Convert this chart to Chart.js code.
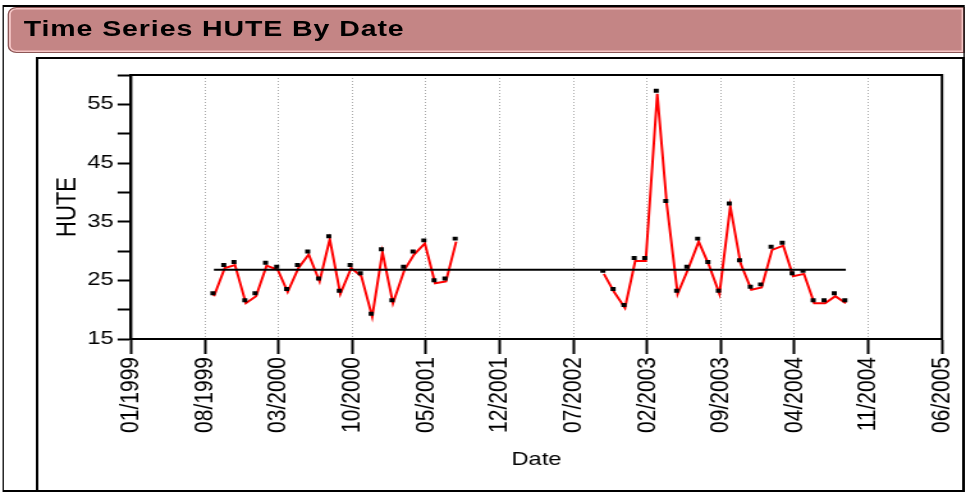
<!DOCTYPE html>
<html>
<head>
<meta charset="utf-8">
<script src="https://cdn.jsdelivr.net/npm/chart.js@4.4.0/dist/chart.umd.min.js"></script>
<style>
  body { margin: 0; background: #fff; }
  /* the source screenshot is stretched sideways, so the whole page is too */
  #page { position: absolute; left: 0; top: 0; width: 755px; height: 493px; overflow: hidden;
          transform: scaleX(1.2795); transform-origin: 0 0; }
  #head { position: absolute; left: 5.5px; top: 7px; width: 748.5px; height: 46px; box-sizing: border-box;
          border: 1px solid #8c5656; border-radius: 7px 0 0 7px; background: #c48585;
          box-shadow: inset 0 0 0 1.5px #f3c4c4; }
  #head span { position: absolute; left: 12px; top: 10px; font: bold 22.3px "Liberation Sans", Arial, sans-serif;
               line-height: 22.3px; letter-spacing: 0.7px; color: #000; white-space: nowrap; }
  #outer { position: absolute; left: 1.5px; top: 5px; width: 752.5px; height: 487px; box-sizing: border-box;
           border-style: solid; border-color: #000; border-width: 2px 1.5px; }
  #inner { position: absolute; left: 28.1px; top: 57px; width: 726px; height: 435px; box-sizing: border-box;
           border: 2px solid #000; }
</style>
</head>
<body>
<div id="page">
  <div id="head"><span>Time Series HUTE By Date</span></div>
  <div id="outer"></div>
  <div id="inner"></div>
  <canvas id="hute" width="755" height="493" style="position:absolute;left:0;top:0"></canvas>
</div>
<script>
// monthly HUTE readings, first run
var dates9901 = ["1999-08-28", "1999-09-28", "1999-10-28", "1999-11-28", "1999-12-28",
    "2000-01-28", "2000-02-28", "2000-03-28", "2000-04-28", "2000-05-28", "2000-06-28",
    "2000-07-28", "2000-08-28", "2000-09-28", "2000-10-28", "2000-11-28", "2000-12-28",
    "2001-01-28", "2001-02-28", "2001-03-28", "2001-04-28", "2001-05-28", "2001-06-28", "2001-07-28"];
var hute9901 = [22.3, 27.1, 27.6, 21.1, 22.3, 27.5, 26.8, 23.0, 27.1, 29.4, 24.8, 32.0,
    22.7, 27.1, 25.7, 18.8, 29.8, 21.1, 26.8, 29.4, 31.3, 24.5, 24.8, 31.6];

// second run, after the gap
var dates0204 = ["2002-09-28", "2002-10-28", "2002-11-28", "2002-12-28",
    "2003-01-28", "2003-02-28", "2003-03-28", "2003-04-28", "2003-05-28", "2003-06-28",
    "2003-07-28", "2003-08-28", "2003-09-28", "2003-10-28", "2003-11-28", "2003-12-28",
    "2004-01-28", "2004-02-28", "2004-03-28", "2004-04-28", "2004-05-28", "2004-06-28",
    "2004-07-28", "2004-08-28"];
var hute0204 = [26.1, 23.0, 20.3, 28.3, 28.3, 56.8, 38.0, 22.7, 26.8, 31.6, 27.6, 22.7,
    37.6, 27.9, 23.4, 23.8, 30.2, 30.9, 25.7, 26.1, 21.1, 21.1, 22.3, 21.1];

var huteMean = 26.8;

var xTickLabels = ["01/1999", "08/1999", "03/2000", "10/2000", "05/2001", "12/2001",
    "07/2002", "02/2003", "09/2003", "04/2004", "11/2004", "06/2005"];
var yTickLabels = [15, 25, 35, 45, 55];
var yMin = 15, yMax = 60, yStep = 5;

// months since 01/1999, for the linear x axis
function monthOfDate(s) {
    var p = s.split("-");
    var y = +p[0], m = +p[1], d = +p[2];
    var days = new Date(y, m, 0).getDate();
    return (y - 1999) * 12 + (m - 1) + (d - 1) / days;
}
function monthOfLabel(s) {
    var p = s.split("/");
    return (+p[1] - 1999) * 12 + (+p[0] - 1);
}
function points(dates, vals) {
    return dates.map(function (d, i) { return {x: monthOfDate(d), y: vals[i]}; });
}

var run1 = points(dates9901, hute9901);
var run2 = points(dates0204, hute0204);
var allDates = dates9901.concat(dates0204);
var meanLine = [
    {x: monthOfDate(allDates[0]), y: huteMean},
    {x: monthOfDate(allDates[allDates.length - 1]), y: huteMean}
];

var labelFont = "'Liberation Sans', Arial, sans-serif";

// the dots in the source sit a touch up-left of the red line
var nudge = {
    id: "nudge",
    beforeDatasetDraw: function (chart, args) {
        var n = args.meta._dataset.nudge;
        chart.ctx.save();
        if (n) chart.ctx.translate(n[0], n[1]);
    },
    afterDatasetDraw: function (chart) {
        chart.ctx.restore();
    }
};
// box around the plot
var frame = {
    id: "frame",
    afterDraw: function (chart) {
        var a = chart.chartArea, ctx = chart.ctx;
        ctx.save();
        ctx.strokeStyle = "#000";
        ctx.lineWidth = 2;
        ctx.strokeRect(a.left, a.top, a.right - a.left, a.bottom - a.top);
        ctx.restore();
    }
};

var ctx = document.getElementById("hute").getContext("2d");
var chart = new Chart(ctx, {
    type: "line",
    data: {
        datasets: [
            {data: meanLine, borderColor: "#000", borderWidth: 2, pointRadius: 0, order: 2},
            {data: run1, borderColor: "#ff0000", borderWidth: 2, pointRadius: 0, tension: 0, order: 3},
            {data: run2, borderColor: "#ff0000", borderWidth: 2, pointRadius: 0, tension: 0, order: 3},
            {data: run1.concat(run2), showLine: false, pointStyle: "rect", pointRadius: 2.8,
             pointBackgroundColor: "#000", pointBorderWidth: 0, order: 1, nudge: [-0.8, -3]}
        ]
    },
    options: {
        responsive: false,
        animation: false,
        events: [],
        layout: {padding: {left: 0, right: 18.8, top: 75, bottom: 0}},
        plugins: {legend: {display: false}, tooltip: {enabled: false}},
        scales: {
            x: {
                type: "linear",
                min: monthOfLabel(xTickLabels[0]),
                max: monthOfLabel(xTickLabels[xTickLabels.length - 1]),
                afterBuildTicks: function (scale) {
                    scale.ticks = xTickLabels.map(function (l) { return {value: monthOfLabel(l)}; });
                },
                afterFit: function (scale) {
                    scale.height = 154;
                    scale.paddingLeft = 0;
                    scale.paddingRight = 0;
                },
                ticks: {
                    autoSkip: false, minRotation: 90, maxRotation: 90, padding: 3,
                    color: "#000", font: {family: labelFont, size: 21},
                    callback: function (v) {
                        var i = xTickLabels.map(monthOfLabel).indexOf(v);
                        return i < 0 ? "" : xTickLabels[i];
                    }
                },
                grid: {color: "#a9a9a9", lineWidth: 1, tickColor: "#000", tickWidth: 2, tickLength: 15},
                border: {color: "#000", width: 2, dash: [1, 2]},
                title: {display: true, text: "Date", color: "#000",
                        font: {family: labelFont, size: 18.5}, padding: {top: 0, bottom: 22}}
            },
            y: {
                min: yMin, max: yMax,
                ticks: {
                    stepSize: yStep, padding: 3, color: "#000", font: {family: labelFont, size: 18.5},
                    callback: function (v) { return yTickLabels.indexOf(v) < 0 ? "" : String(v); }
                },
                afterFit: function (scale) { scale.width = 102.4; },
                grid: {drawOnChartArea: false, color: "#000", tickColor: "#000", tickWidth: 2, tickLength: 10.5},
                border: {color: "#000", width: 2},
                title: {display: true, text: "HUTE", color: "#000",
                        font: {family: labelFont, size: 22}, padding: {top: 39.5, bottom: 0}}
            }
        }
    },
    plugins: [nudge, frame]
});
</script>
</body>
</html>
